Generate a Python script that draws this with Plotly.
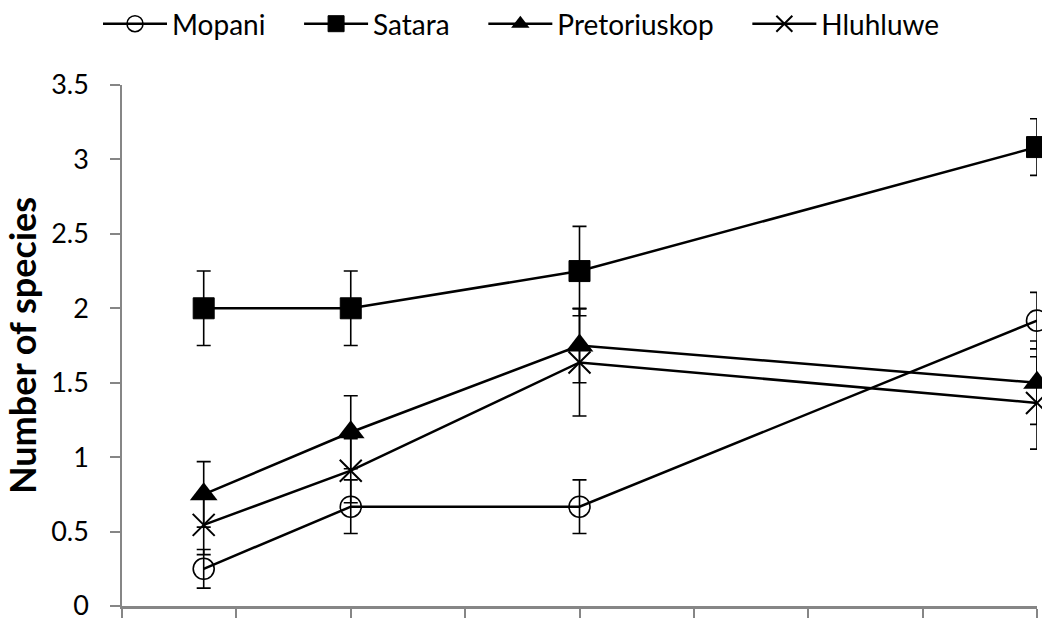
import plotly.graph_objects as go

days = [5, 14, 28, 56]
x_ticks = [0, 7, 14, 21, 28, 35, 42, 49, 56]
y_ticks = [0, 0.5, 1, 1.5, 2, 2.5, 3, 3.5]
y_tick_labels = ["0", "0.5", "1", "1.5", "2", "2.5", "3", "3.5"]

mopani = [0.25, 0.667, 0.667, 1.917]
mopani_err = [0.13, 0.18, 0.18, 0.19]
satara = [2.0, 2.0, 2.25, 3.083]
satara_err = [0.25, 0.25, 0.30, 0.19]
pretoriuskop = [0.75, 1.167, 1.75, 1.5]
pretoriuskop_err = [0.22, 0.245, 0.25, 0.28]
hluhluwe = [0.545, 0.909, 1.636, 1.364]
hluhluwe_err = [0.20, 0.215, 0.36, 0.31]

pad = "\u00a0" * 4
series = [
    ("Mopani", mopani, mopani_err, dict(symbol="circle-open", size=21, color="black", line=dict(width=1.6, color="black"))),
    ("Satara", satara, satara_err, dict(symbol="square", size=21, color="black", line=dict(width=1, color="black"))),
    ("Pretoriuskop", pretoriuskop, pretoriuskop_err, dict(symbol="triangle-up", size=24, color="black", line=dict(width=0, color="black"))),
    ("Hluhluwe", hluhluwe, hluhluwe_err, dict(symbol="x-thin-open", size=22, color="black", line=dict(width=2, color="black"))),
]

fig = go.Figure()
for name, vals, errs, marker in series:
    fig.add_trace(go.Scatter(
        x=days, y=vals, name=name + pad, mode="lines+markers",
        line=dict(color="black", width=2.5),
        marker=marker,
        error_y=dict(type="data", array=errs, visible=True, color="black", thickness=1.6, width=7),
        cliponaxis=False,
    ))

W, H = 1042, 620
fig.update_layout(
    width=W, height=H,
    margin=dict(l=122, r=5, t=85, b=14, autoexpand=False),
    paper_bgcolor="white", plot_bgcolor="white",
    font=dict(family="Lato, Open Sans, sans-serif", size=27, color="black"),
    showlegend=True,
    legend=dict(orientation="h", xref="container", x=98 / W, xanchor="left",
                yref="container", y=1 - 24 / H, yanchor="middle",
                font=dict(size=28), itemwidth=64, tracegroupgap=0, bgcolor="rgba(0,0,0,0)"),
    xaxis=dict(range=[0, 56], tickvals=x_ticks, showticklabels=False, ticks="outside",
               ticklen=9, tickcolor="#868686", tickwidth=1.5, showline=True, linecolor="#868686",
               linewidth=2.5, showgrid=False, zeroline=False, fixedrange=True),
    yaxis=dict(range=[0, 3.5], tickvals=y_ticks, ticktext=y_tick_labels, ticks="outside",
               ticklen=10, tickcolor="#868686", tickwidth=1.5, showline=True, linecolor="#868686",
               linewidth=1.5, showgrid=False, zeroline=False, tickfont=dict(size=27),
               ticklabelstandoff=16, ticklabeloverflow="allow",
               title=dict(text="<b>Number of species</b>", font=dict(size=36), standoff=4)),
)

fig.write_html("out.html", config={"displayModeBar": False},
               post_script="document.body.style.margin='0';")
